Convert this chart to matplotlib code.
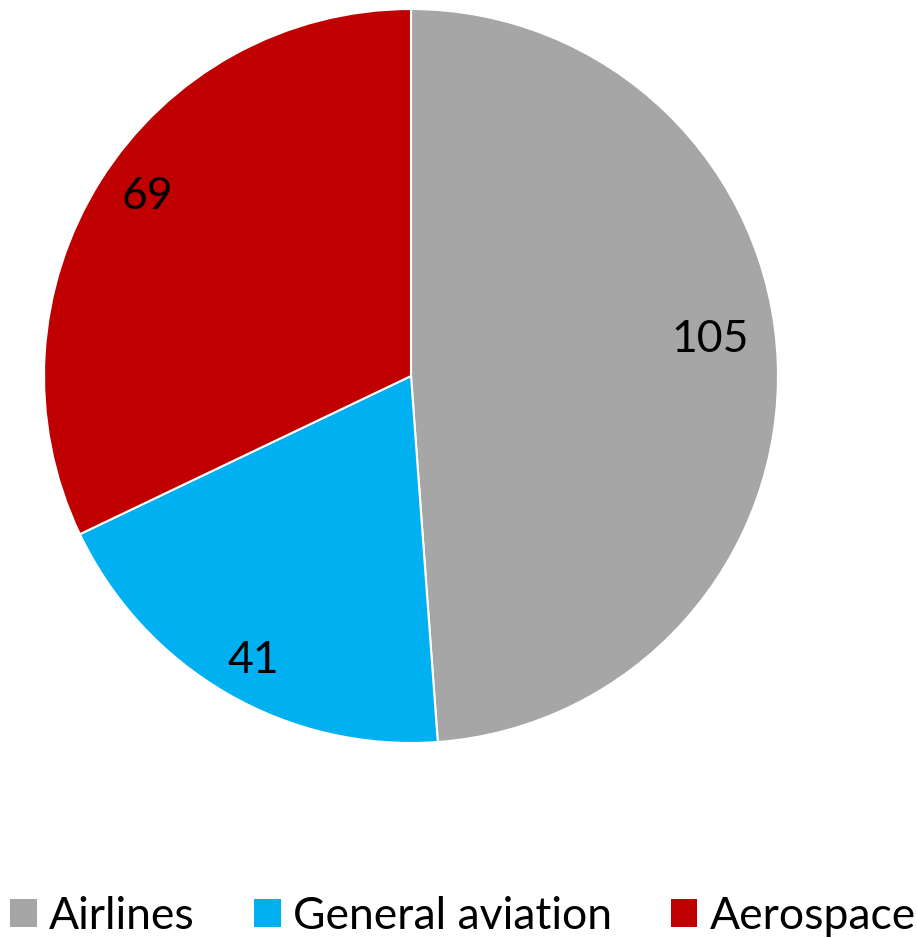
import matplotlib
matplotlib.use("Agg")
import matplotlib.pyplot as plt
from matplotlib.patches import Patch
import numpy as np

categories = ["Airlines", "General aviation", "Aerospace"]
values = [105, 41, 69]
colors = ["#A6A6A6", "#00B0F0", "#C00000"]

# label placement (radius fraction, angle in degrees) - layout only
label_pos = [(0.82, 6.9), (0.885, -119.0), (0.87, 145.8)]

plt.rcParams['font.family'] = ['Lato', 'DejaVu Sans']

fig = plt.figure(figsize=(9.17, 9.38), dpi=100)
ax = fig.add_axes([0.048, 0.2079, 0.8004, 0.7825])
wedges, texts = ax.pie(values, colors=colors, startangle=90, counterclock=False,
                       radius=1, labels=[str(v) for v in values], labeldistance=0.85,
                       wedgeprops=dict(edgecolor="white", linewidth=1.5),
                       textprops=dict(fontsize=32, color="black"))
for t, (r, a) in zip(texts, label_pos):
    t.set_ha("center"); t.set_va("center")
    t.set_position((r * np.cos(np.radians(a)), r * np.sin(np.radians(a))))
ax.set_xlim(-1, 1); ax.set_ylim(-1, 1)
ax.set_aspect("equal")
ax.axis("off")

handles = [Patch(facecolor=c, label=l) for c, l in zip(colors, categories)]
fig.legend(handles=handles, loc="center", bbox_to_anchor=(0.505, 0.023), ncol=3,
           frameon=False, fontsize=32, handlelength=0.6, handleheight=0.6,
           handletextpad=0.27, columnspacing=1.33, borderaxespad=0.0, borderpad=0.0)

fig.savefig("out.png", dpi=100)
